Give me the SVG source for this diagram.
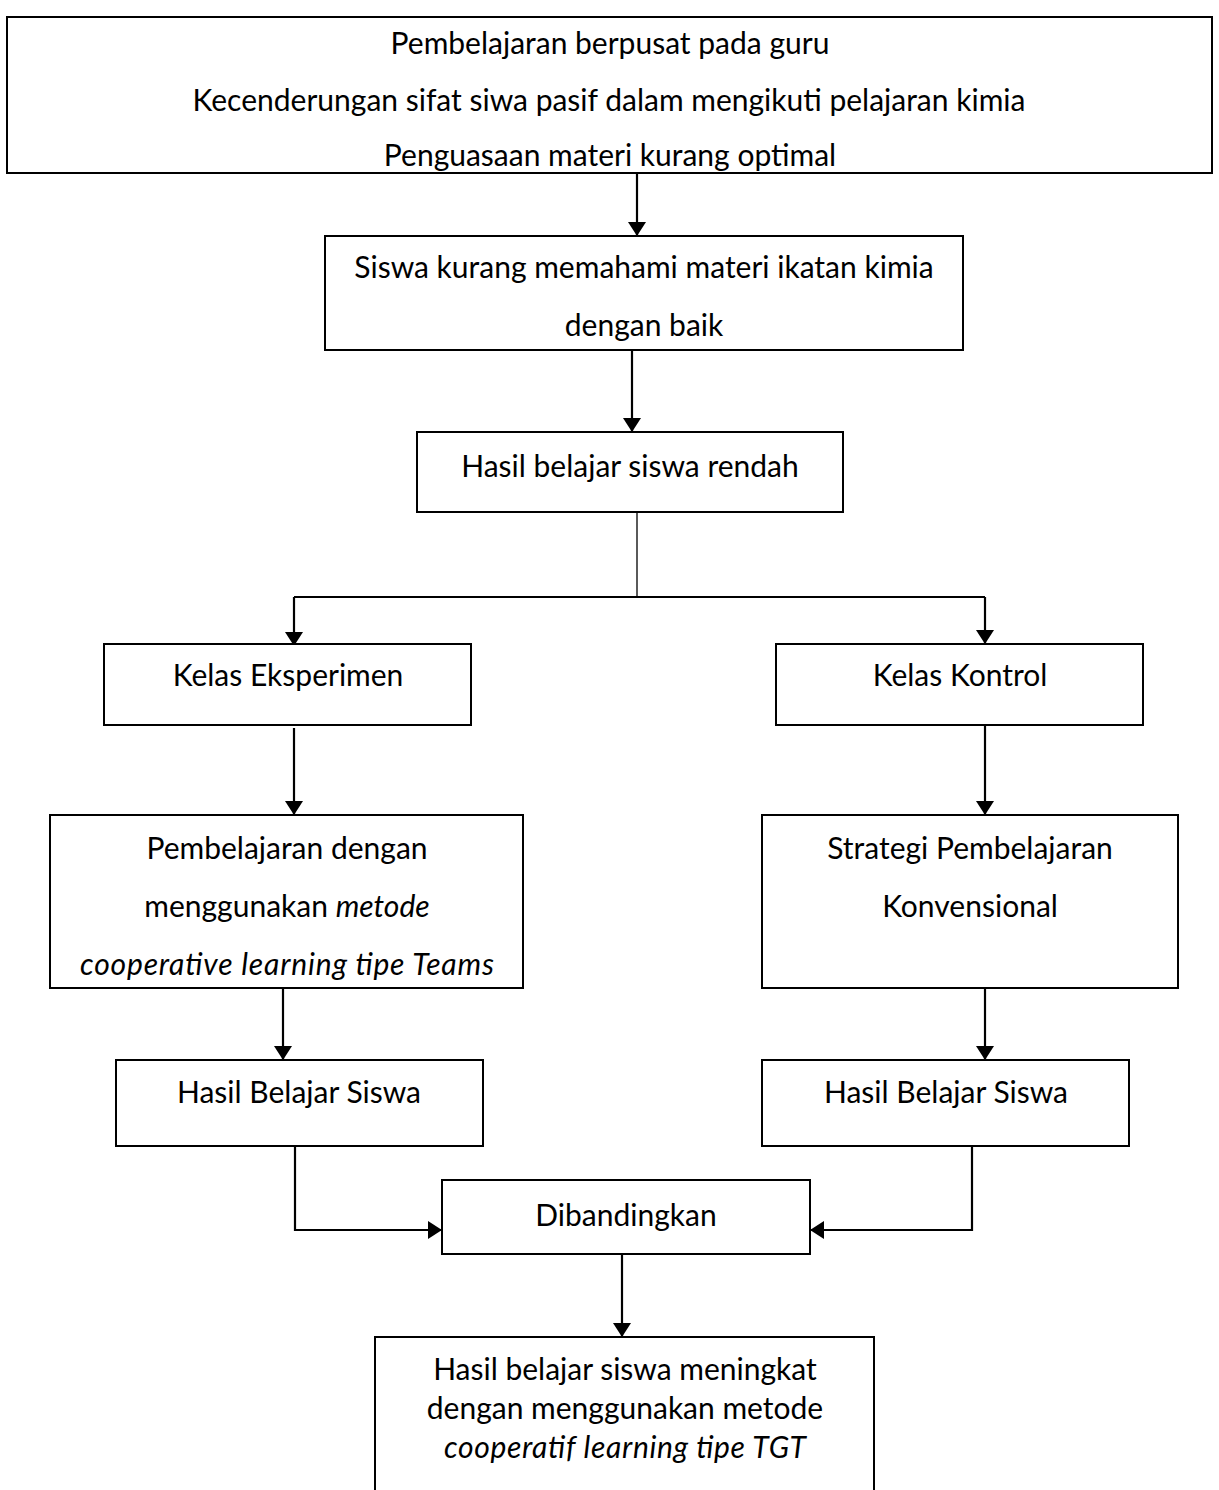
<svg xmlns="http://www.w3.org/2000/svg" width="1219" height="1490" viewBox="0 0 1219 1490">
<defs>
<style>
.box{fill:#fff;stroke:#000;stroke-width:2}
.t{font-family:Lato,"Open Sans","Liberation Sans",sans-serif;font-size:30px;fill:#000;text-anchor:middle}
.i{font-style:italic}
.c{fill:none;stroke:#000;stroke-width:2.2}
.thin{fill:none;stroke:#000;stroke-width:1.3}
</style>
<marker id="ah" viewBox="0 0 14 18" refX="14" refY="9" markerWidth="14" markerHeight="18" markerUnits="userSpaceOnUse" orient="auto">
<path d="M0,0 L14,9 L0,18 Z" fill="#000"/>
</marker>
</defs>
<rect width="1219" height="1490" fill="#fff"/>
<g id="connectors">
<line class="c" x1="637" y1="173" x2="637" y2="236" marker-end="url(#ah)"/>
<line class="c" x1="632" y1="350" x2="632" y2="432" marker-end="url(#ah)"/>
<polyline class="thin" points="637,512 637,597"/>
<polyline class="c" points="985,597 294,597"/>
<line class="c" x1="294" y1="597" x2="294" y2="646" marker-end="url(#ah)"/>
<line class="c" x1="985" y1="597" x2="985" y2="644" marker-end="url(#ah)"/>
<line class="c" x1="294" y1="728" x2="294" y2="815" marker-end="url(#ah)"/>
<line class="c" x1="985" y1="725" x2="985" y2="815" marker-end="url(#ah)"/>
<line class="c" x1="283" y1="988" x2="283" y2="1060" marker-end="url(#ah)"/>
<line class="c" x1="985" y1="988" x2="985" y2="1060" marker-end="url(#ah)"/>
<polyline class="c" points="295,1146 295,1230 442,1230" marker-end="url(#ah)"/>
<polyline class="c" points="972,1146 972,1230 810,1230" marker-end="url(#ah)"/>
<line class="c" x1="622" y1="1254" x2="622" y2="1337" marker-end="url(#ah)"/>
</g>
<g id="n1"><rect class="box" x="7" y="17" width="1205" height="156"/>
<text class="t" x="610" y="54">Pembelajaran berpusat pada guru</text>
<text class="t" x="609" y="111">Kecenderungan sifat siwa pasif dalam mengikuti pelajaran kimia</text>
<text class="t" x="610" y="166">Penguasaan materi kurang optimal</text></g>
<g id="n2"><rect class="box" x="325" y="236" width="638" height="114"/>
<text class="t" x="644" y="278">Siswa kurang memahami materi ikatan kimia</text>
<text class="t" x="644" y="336">dengan baik</text></g>
<g id="n3"><rect class="box" x="417" y="432" width="426" height="80"/>
<text class="t" x="630" y="477">Hasil belajar siswa rendah</text></g>
<g id="n4"><rect class="box" x="104" y="644" width="367" height="81"/>
<text class="t" x="288" y="686">Kelas Eksperimen</text></g>
<g id="n5"><rect class="box" x="776" y="644" width="367" height="81"/>
<text class="t" x="960" y="686">Kelas Kontrol</text></g>
<g id="n6"><rect class="box" x="50" y="815" width="473" height="173"/>
<text class="t" x="287" y="859">Pembelajaran dengan</text>
<text class="t" x="287" y="917">menggunakan <tspan class="i">metode</tspan></text>
<text class="t i" x="287" y="975" textLength="414" lengthAdjust="spacing">cooperative learning tipe Teams</text></g>
<g id="n7"><rect class="box" x="762" y="815" width="416" height="173"/>
<text class="t" x="970" y="859">Strategi Pembelajaran</text>
<text class="t" x="970" y="917">Konvensional</text></g>
<g id="n8"><rect class="box" x="116" y="1060" width="367" height="86"/>
<text class="t" x="299" y="1103">Hasil Belajar Siswa</text></g>
<g id="n9"><rect class="box" x="762" y="1060" width="367" height="86"/>
<text class="t" x="946" y="1103">Hasil Belajar Siswa</text></g>
<g id="n10"><rect class="box" x="442" y="1180" width="368" height="74"/>
<text class="t" x="626" y="1226">Dibandingkan</text></g>
<g id="n11"><path class="box" d="M375,1492 L375,1337 L874,1337 L874,1492"/>
<text class="t" x="625" y="1380">Hasil belajar siswa meningkat</text>
<text class="t" x="625" y="1419">dengan menggunakan metode</text>
<text class="t i" x="625" y="1458" textLength="362" lengthAdjust="spacing">cooperatif learning tipe TGT</text></g>
</svg>
